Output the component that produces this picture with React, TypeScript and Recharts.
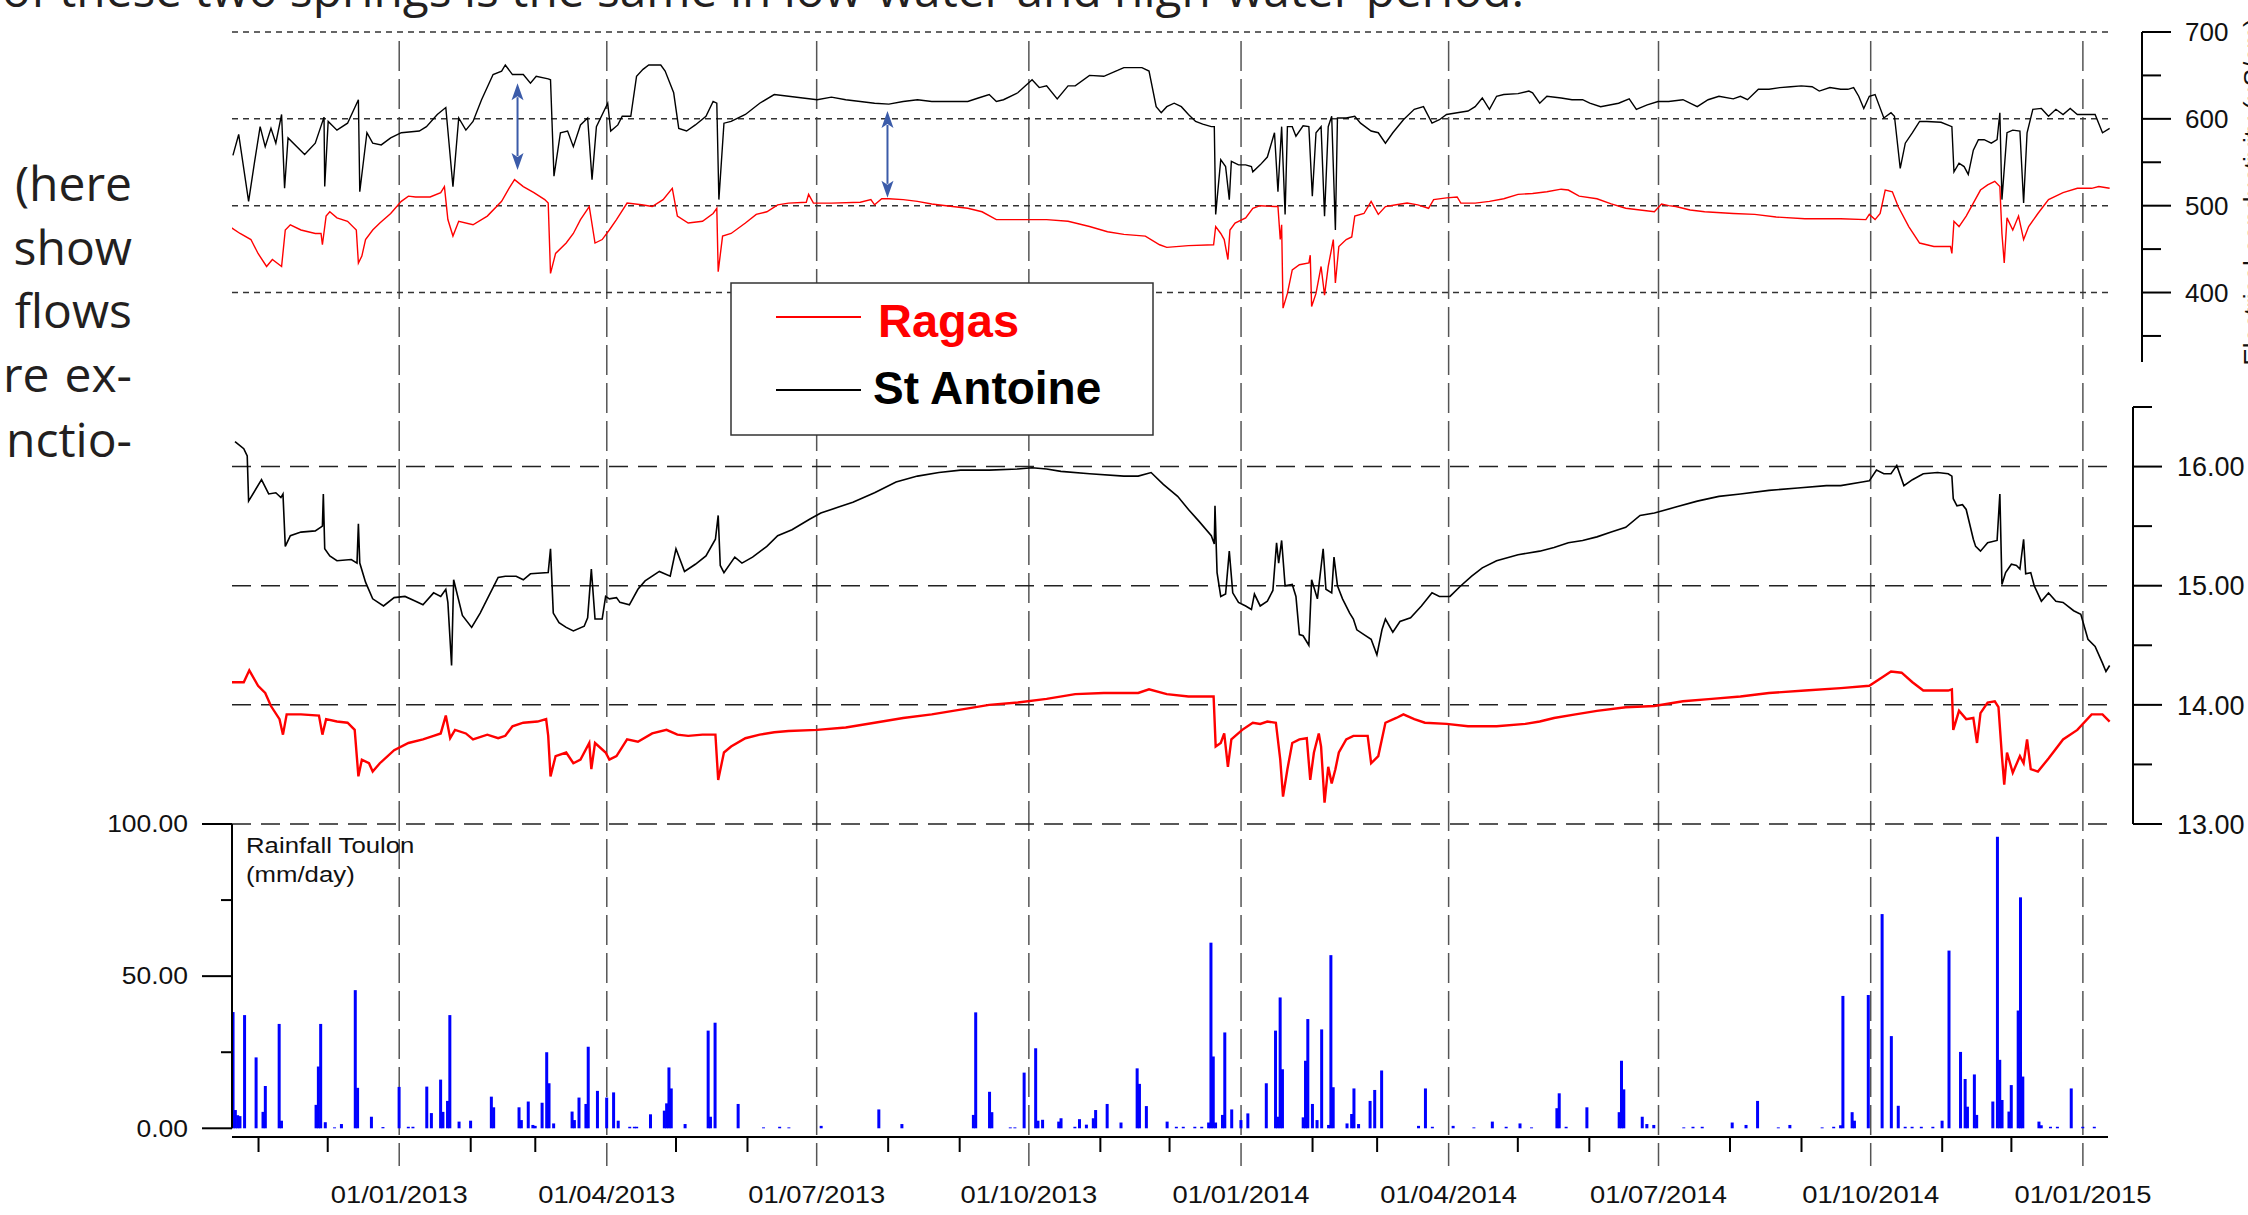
import { ComposedChart, Line, Bar, XAxis, YAxis, ReferenceLine } from "recharts";

// Days are counted from 01/01/2013. Values.
// Electrical conductivity (µS/cm)
const ecStAntoine: [number, number][] = [
  [-72.1, 558], [-69.6, 582], [-65.3, 505], [-62.8, 549], [-60.3, 591], [-58.1, 568], [-55.6, 589], [-53.5, 572],
  [-51.0, 605], [-49.7, 520], [-48.2, 578], [-41.0, 559], [-36.4, 572], [-32.6, 602], [-32.3, 522], [-30.8, 597],
  [-27.0, 587], [-22.4, 595], [-17.7, 622], [-17.1, 516], [-14.0, 584], [-11.5, 572], [-7.8, 570], [-3.7, 578],
  [0.9, 584], [8.7, 586], [11.8, 591], [16.5, 605], [20.2, 613], [23.3, 522], [25.8, 601], [28.9, 587],
  [32.0, 597], [35.7, 622], [40.7, 651], [44.4, 655], [46.0, 662], [49.1, 651], [53.8, 651], [56.9, 641],
  [59.4, 649], [64.6, 646], [65.6, 645], [67.1, 534], [69.9, 584], [73.0, 586], [75.5, 568], [78.6, 593],
  [81.7, 601], [83.6, 530], [85.5, 591], [90.4, 618], [91.7, 586], [94.8, 593], [96.7, 603], [100.4, 603],
  [102.9, 649], [105.7, 657], [108.2, 662], [113.4, 662], [115.3, 655], [119.0, 630], [121.2, 589], [124.6, 586],
  [128.4, 593], [133.0, 603], [136.1, 620], [137.7, 618], [138.6, 507], [140.8, 595], [143.9, 597], [150.1, 605],
  [156.3, 618], [162.6, 628], [168.8, 626], [175.0, 624], [181.2, 622], [187.4, 625], [193.6, 622], [199.9, 620],
  [206.1, 618], [212.3, 617], [218.5, 620], [224.7, 622], [230.9, 620], [237.1, 620], [246.5, 620], [251.1, 624],
  [255.8, 628], [258.9, 620], [262.0, 622], [268.2, 630], [274.4, 645], [277.5, 636], [280.7, 638], [285.3, 623],
  [290.0, 638], [293.1, 638], [299.3, 650], [305.5, 649], [311.7, 656], [314.2, 659], [322.0, 659], [325.1, 655],
  [328.2, 614], [330.4, 607], [332.8, 614], [336.0, 618], [339.1, 614], [342.2, 605], [345.3, 597], [348.4, 594],
  [352.1, 591], [353.4, 591], [354.0, 490], [356.2, 553], [358.3, 545], [359.9, 507], [360.8, 551], [363.9, 547],
  [367.0, 547], [369.5, 545], [370.1, 539], [373.3, 547], [376.4, 556], [379.5, 584], [381.0, 516], [382.6, 591],
  [384.1, 490], [385.1, 591], [387.2, 591], [388.8, 580], [391.9, 592], [394.4, 591], [395.9, 511], [397.5, 584],
  [399.7, 591], [401.2, 488], [402.8, 591], [404.3, 603], [405.9, 472], [406.8, 601], [410.6, 601], [414.3, 603],
  [416.8, 595], [421.4, 586], [424.5, 584], [427.6, 572], [430.8, 584], [435.4, 599], [440.1, 611], [444.1, 614],
  [447.8, 595], [451.0, 599], [454.1, 605], [458.7, 607], [463.4, 609], [466.5, 614], [469.6, 624], [472.7, 611],
  [475.8, 626], [478.9, 628], [485.1, 629], [489.8, 632], [491.4, 630], [494.5, 618], [497.6, 626], [503.8, 624],
  [508.5, 622], [513.1, 622], [516.2, 618], [520.9, 614], [528.7, 618], [533.3, 623], [536.4, 611], [541.1, 616],
  [545.8, 620], [550.4, 620], [556.6, 622], [562.8, 614], [567.5, 622], [572.2, 626], [578.4, 623], [581.5, 626],
  [584.6, 622], [589.3, 634], [593.9, 634], [598.6, 636], [603.3, 637], [607.9, 638], [612.6, 637], [615.7, 632],
  [620.3, 636], [625.0, 634], [628.1, 634], [630.6, 636], [632.8, 626], [635.0, 612], [637.4, 626], [639.9, 628],
  [643.7, 601], [646.8, 607], [648.3, 603], [650.8, 543], [653.0, 572], [656.1, 584], [659.2, 597], [662.3, 597],
  [668.5, 596], [673.2, 591], [674.1, 539], [676.3, 549], [678.5, 545], [680.3, 536], [682.5, 564], [684.7, 576],
  [687.2, 576], [690.3, 572], [692.8, 576], [694.0, 607], [694.9, 507], [697.1, 584], [699.6, 587], [702.7, 586],
  [704.3, 503], [705.8, 584], [708.3, 611], [712.0, 612], [715.1, 603], [718.3, 611], [721.4, 605], [724.5, 612],
  [727.6, 605], [730.7, 605], [735.3, 605], [738.5, 584], [741.6, 589],
];

const ecRagas: [number, number][] = [
  [-73.0, 475], [-69.0, 468], [-64.3, 461], [-61.2, 445], [-57.5, 430], [-55.0, 438], [-51.0, 430], [-49.4, 472],
  [-47.2, 478], [-42.6, 472], [-36.4, 468], [-33.9, 468], [-33.3, 455], [-31.7, 488], [-30.1, 493], [-27.0, 486],
  [-22.4, 482], [-18.6, 472], [-17.7, 434], [-16.2, 442], [-14.6, 461], [-11.5, 472], [-8.4, 480], [-3.7, 491],
  [0.9, 505], [4.0, 511], [7.1, 510], [13.4, 510], [18.0, 515], [19.6, 522], [21.1, 484], [23.3, 465],
  [25.8, 482], [32.0, 478], [38.2, 488], [44.4, 505], [47.6, 520], [50.0, 530], [53.8, 522], [58.4, 515],
  [63.1, 507], [64.6, 503], [65.6, 422], [67.8, 445], [72.4, 457], [75.5, 468], [78.6, 484], [82.4, 499],
  [84.9, 457], [88.0, 461], [91.1, 472], [94.2, 484], [98.8, 503], [105.1, 501], [109.7, 499], [114.4, 507],
  [118.4, 520], [120.6, 488], [125.3, 480], [131.5, 482], [136.1, 491], [137.7, 497], [138.3, 424], [140.2, 465],
  [143.9, 468], [150.1, 480], [154.8, 490], [159.4, 493], [164.1, 501], [168.8, 503], [176.5, 504], [177.5, 513],
  [179.6, 503], [187.4, 503], [199.9, 504], [204.5, 507], [206.1, 501], [209.2, 508], [212.3, 508], [218.5, 507],
  [224.7, 505], [230.9, 502], [237.1, 500], [246.5, 497], [252.7, 493], [258.9, 484], [268.2, 484], [280.7, 484],
  [290.0, 482], [299.3, 476], [307.1, 470], [314.2, 467], [323.5, 465], [329.7, 455], [332.8, 452], [342.2, 454],
  [353.1, 455], [354.0, 476], [356.2, 468], [357.7, 461], [359.3, 438], [360.2, 472], [362.4, 480], [367.0, 486],
  [370.1, 497], [373.3, 500], [379.5, 499], [381.0, 499], [382.0, 461], [382.6, 478], [383.2, 382], [385.1, 399],
  [387.2, 426], [390.3, 432], [394.4, 434], [395.0, 443], [395.6, 384], [397.5, 399], [399.7, 430], [401.2, 397],
  [402.8, 430], [405.0, 461], [405.9, 411], [407.4, 453], [410.6, 461], [413.0, 464], [414.3, 488], [418.3, 491],
  [421.4, 505], [424.5, 490], [427.6, 499], [432.3, 501], [437.0, 503], [441.6, 501], [446.3, 497], [448.5, 507],
  [454.1, 509], [458.7, 510], [460.3, 503], [466.5, 503], [472.7, 505], [478.9, 508], [485.1, 513], [491.4, 514],
  [497.6, 516], [503.8, 519], [506.9, 518], [511.6, 511], [519.3, 508], [525.5, 502], [531.8, 497], [538.0, 495],
  [544.2, 493], [547.3, 502], [550.4, 500], [553.5, 499], [559.7, 495], [566.0, 493], [578.4, 491], [587.7, 490],
  [597.0, 487], [609.5, 485], [625.0, 485], [635.9, 484], [637.4, 490], [639.9, 484], [642.1, 491], [644.3, 518],
  [647.4, 516], [649.9, 499], [654.5, 476], [659.2, 457], [665.4, 453], [672.6, 453], [673.2, 445], [674.1, 482],
  [676.3, 476], [679.4, 488], [682.5, 503], [685.6, 518], [688.7, 524], [691.8, 528], [694.0, 522], [694.9, 468],
  [695.9, 434], [697.1, 486], [699.6, 472], [702.1, 488], [704.3, 461], [706.5, 476], [710.5, 491], [715.1, 507],
  [721.4, 515], [727.6, 520], [733.8, 520], [736.9, 522], [741.6, 520],
];

// Water temperature (°C)
const tempStAntoine: [number, number][] = [
  [-71.2, 16.21], [-67.4, 16.15], [-65.9, 16.09], [-65.3, 15.71], [-59.7, 15.89], [-56.6, 15.77], [-53.5, 15.78],
  [-51.3, 15.74], [-50.4, 15.77], [-49.4, 15.33], [-47.2, 15.42], [-42.6, 15.45], [-36.4, 15.46], [-33.3, 15.5],
  [-32.9, 15.77], [-32.3, 15.31], [-30.1, 15.25], [-27.0, 15.21], [-20.8, 15.22], [-18.3, 15.19], [-17.7, 15.52],
  [-17.1, 15.19], [-14.6, 15.03], [-11.5, 14.89], [-6.8, 14.83], [-2.2, 14.9], [2.5, 14.91], [7.1, 14.87],
  [10.3, 14.84], [14.9, 14.94], [18.0, 14.91], [20.2, 14.97], [21.1, 14.86], [22.7, 14.33], [23.6, 15.05],
  [27.4, 14.75], [31.4, 14.65], [35.1, 14.77], [38.2, 14.89], [42.9, 15.07], [46.0, 15.08], [50.7, 15.08],
  [53.8, 15.05], [56.9, 15.1], [64.6, 15.11], [65.6, 15.31], [66.8, 14.77], [69.3, 14.69], [72.4, 14.65],
  [75.5, 14.62], [80.2, 14.66], [81.7, 14.73], [83.3, 15.14], [84.9, 14.72], [88.0, 14.72], [89.5, 14.91],
  [91.1, 14.89], [94.2, 14.9], [95.7, 14.86], [99.8, 14.84], [103.5, 14.97], [106.6, 15.04], [112.8, 15.12],
  [117.5, 15.08], [120.0, 15.31], [123.7, 15.12], [128.4, 15.18], [133.0, 15.25], [137.1, 15.39], [138.3, 15.59],
  [139.2, 15.17], [140.8, 15.11], [145.5, 15.24], [148.6, 15.19], [153.2, 15.24], [159.4, 15.33], [164.1, 15.42],
  [170.3, 15.47], [178.1, 15.56], [182.8, 15.61], [190.5, 15.66], [196.7, 15.7], [206.1, 15.78], [215.4, 15.87],
  [224.7, 15.92], [234.0, 15.95], [243.4, 15.97], [255.8, 15.97], [268.2, 15.98], [274.4, 15.99], [280.7, 15.98],
  [286.9, 15.96], [299.3, 15.94], [314.2, 15.92], [320.4, 15.92], [326.0, 15.95], [331.3, 15.85], [337.5, 15.75],
  [342.2, 15.64], [346.8, 15.54], [352.1, 15.42], [353.4, 15.35], [353.7, 15.67], [354.6, 15.11], [356.2, 14.91],
  [358.3, 14.93], [359.9, 15.29], [361.4, 14.94], [363.9, 14.86], [367.0, 14.83], [369.5, 14.8], [370.8, 14.93],
  [373.3, 14.83], [376.4, 14.87], [378.8, 14.96], [380.4, 15.36], [381.3, 15.19], [382.6, 15.38], [384.1, 15.0],
  [387.2, 15.01], [388.8, 14.91], [390.3, 14.59], [391.9, 14.58], [394.4, 14.5], [395.6, 15.05], [398.1, 14.89],
  [400.6, 15.31], [401.8, 14.97], [404.3, 14.94], [405.3, 15.24], [406.8, 15.0], [409.0, 14.89], [412.1, 14.77],
  [413.7, 14.72], [415.2, 14.63], [418.3, 14.59], [421.4, 14.55], [423.9, 14.42], [426.1, 14.63], [427.6, 14.72],
  [430.8, 14.61], [433.9, 14.7], [438.5, 14.73], [443.2, 14.83], [447.8, 14.94], [451.0, 14.91], [455.6, 14.91],
  [460.3, 15.0], [465.0, 15.08], [469.6, 15.15], [475.8, 15.21], [485.1, 15.26], [494.5, 15.29], [500.7, 15.32],
  [506.9, 15.36], [513.1, 15.38], [519.3, 15.41], [525.5, 15.45], [531.8, 15.49], [538.0, 15.59], [544.2, 15.61],
  [553.5, 15.66], [562.8, 15.71], [572.2, 15.75], [581.5, 15.77], [593.9, 15.8], [606.4, 15.82], [618.8, 15.84],
  [625.0, 15.84], [634.3, 15.87], [637.4, 15.88], [640.5, 15.97], [643.7, 15.94], [646.8, 15.94], [649.3, 16.01],
  [652.4, 15.84], [656.1, 15.89], [660.8, 15.94], [667.0, 15.95], [671.6, 15.94], [673.2, 15.92], [673.8, 15.73],
  [675.4, 15.67], [677.8, 15.68], [679.4, 15.64], [682.5, 15.39], [683.5, 15.33], [685.6, 15.29], [688.7, 15.36],
  [692.8, 15.38], [694.0, 15.77], [694.9, 15.01], [696.5, 15.11], [699.0, 15.18], [701.2, 15.17], [702.7, 15.14],
  [704.3, 15.39], [705.2, 15.1], [707.4, 15.11], [708.9, 15.0], [712.0, 14.87], [715.1, 14.94], [718.3, 14.87],
  [721.4, 14.86], [726.0, 14.79], [729.1, 14.76], [732.2, 14.55], [735.3, 14.49], [738.5, 14.35], [740.0, 14.28],
  [741.6, 14.33],
];

const tempRagas: [number, number][] = [
  [-73.0, 14.19], [-67.4, 14.19], [-65.0, 14.29], [-61.2, 14.16], [-58.1, 14.1], [-55.6, 13.99], [-51.9, 13.88],
  [-50.4, 13.75], [-48.8, 13.92], [-42.6, 13.92], [-34.8, 13.91], [-33.3, 13.75], [-31.7, 13.88], [-27.0, 13.86],
  [-22.4, 13.85], [-19.3, 13.79], [-17.7, 13.4], [-16.2, 13.54], [-13.1, 13.51], [-11.5, 13.44], [-8.4, 13.51],
  [-2.2, 13.62], [4.0, 13.68], [10.3, 13.71], [14.9, 13.74], [18.0, 13.76], [20.2, 13.91], [22.1, 13.72],
  [24.2, 13.79], [28.9, 13.76], [32.0, 13.71], [38.2, 13.75], [42.9, 13.72], [46.0, 13.74], [49.1, 13.82],
  [53.8, 13.85], [60.0, 13.86], [63.7, 13.88], [64.6, 13.74], [65.6, 13.4], [67.8, 13.57], [72.4, 13.6],
  [75.5, 13.51], [78.6, 13.54], [82.4, 13.68], [83.3, 13.46], [84.9, 13.68], [89.5, 13.6], [91.1, 13.54],
  [94.2, 13.57], [98.8, 13.71], [103.5, 13.69], [109.7, 13.76], [115.9, 13.79], [120.6, 13.75], [125.3, 13.74],
  [131.5, 13.75], [137.1, 13.75], [138.3, 13.37], [140.8, 13.6], [143.9, 13.65], [150.1, 13.72], [156.3, 13.75],
  [162.6, 13.77], [168.8, 13.78], [181.2, 13.79], [193.6, 13.81], [206.1, 13.85], [218.5, 13.89], [230.9, 13.92],
  [243.4, 13.96], [255.8, 14.0], [268.2, 14.02], [280.7, 14.05], [293.1, 14.09], [305.5, 14.1], [314.2, 14.1],
  [320.4, 14.1], [325.1, 14.13], [332.8, 14.09], [342.2, 14.07], [353.1, 14.07], [354.0, 13.65], [356.2, 13.68],
  [357.7, 13.76], [359.3, 13.48], [360.8, 13.71], [365.5, 13.79], [370.1, 13.85], [373.3, 13.84], [376.4, 13.86],
  [380.1, 13.85], [382.0, 13.54], [383.2, 13.23], [385.1, 13.46], [387.2, 13.68], [390.3, 13.71], [393.5, 13.72],
  [395.0, 13.37], [396.6, 13.6], [398.7, 13.76], [399.7, 13.65], [401.2, 13.18], [402.8, 13.48], [404.3, 13.34],
  [405.9, 13.46], [407.4, 13.6], [410.6, 13.71], [413.7, 13.74], [419.9, 13.74], [421.4, 13.51], [424.5, 13.57],
  [427.6, 13.85], [432.3, 13.89], [435.4, 13.92], [440.1, 13.88], [444.7, 13.85], [454.1, 13.84], [463.4, 13.82],
  [475.8, 13.82], [488.3, 13.84], [494.5, 13.86], [500.7, 13.89], [510.0, 13.92], [519.3, 13.95], [531.8, 13.98],
  [544.2, 13.99], [556.6, 14.03], [569.1, 14.05], [581.5, 14.07], [593.9, 14.1], [609.5, 14.12], [625.0, 14.14],
  [637.4, 14.16], [643.7, 14.24], [646.8, 14.28], [651.4, 14.27], [656.1, 14.19], [660.8, 14.12], [671.6, 14.12],
  [673.2, 14.13], [673.8, 13.79], [676.3, 13.95], [679.4, 13.88], [682.5, 13.89], [684.1, 13.68], [685.6, 13.93],
  [688.7, 14.02], [691.8, 14.03], [693.4, 13.98], [694.9, 13.57], [695.9, 13.33], [697.1, 13.6], [699.6, 13.43],
  [702.7, 13.57], [704.3, 13.51], [705.8, 13.71], [707.4, 13.46], [710.5, 13.44], [715.1, 13.55], [721.4, 13.71],
  [727.6, 13.79], [733.8, 13.92], [738.5, 13.92], [741.6, 13.86],
];

// Rainfall Toulon (mm/day)
const rainToulon: [number, number][] = [
  [-72, 38.2], [-71, 6.0], [-70, 4.3], [-69, 4.0], [-67, 37.2], [-62, 23.3], [-59, 5.4], [-58, 13.9], [-52, 34.3],
  [-51, 2.5], [-36, 7.7], [-35, 20.3], [-34, 34.3], [-32, 2.0], [-28, 0.3], [-25, 1.4], [-19, 45.4], [-18, 13.3],
  [-12, 3.8], [-7, 0.4], [0, 13.6], [4, 0.5], [6, 0.5], [12, 13.7], [14, 5.0], [18, 16.0], [19, 5.4], [21, 9.0],
  [22, 37.2], [26, 2.2], [31, 2.5], [40, 10.4], [41, 6.9], [52, 6.9], [53, 2.7], [56, 8.8], [58, 1.1], [59, 0.8],
  [62, 8.4], [64, 25.0], [65, 14.8], [67, 1.6], [75, 5.5], [76, 2.7], [78, 10.1], [81, 8.0], [82, 26.8], [86, 12.3],
  [90, 10.1], [93, 11.8], [95, 2.5], [100, 0.5], [102, 0.5], [103, 0.5], [109, 4.6], [115, 5.8], [116, 8.2],
  [117, 20.0], [118, 13.1], [124, 1.4], [134, 32.1], [135, 3.8], [137, 34.7], [147, 8.0], [158, 0.3], [165, 0.5],
  [169, 0.3], [183, 0.8], [208, 6.2], [218, 1.4], [249, 4.4], [250, 38.1], [256, 12.0], [257, 5.3], [265, 0.3],
  [267, 0.3], [271, 18.3], [276, 26.3], [277, 2.5], [279, 2.8], [286, 2.2], [287, 3.3], [293, 0.5], [295, 3.0],
  [298, 1.2], [301, 3.3], [302, 6.0], [307, 8.0], [313, 1.9], [320, 19.7], [321, 14.6], [324, 7.3], [333, 2.2],
  [337, 0.5], [340, 0.5], [345, 0.5], [348, 0.5], [351, 1.9], [352, 61.0], [353, 23.6], [354, 1.9], [357, 4.4],
  [358, 31.5], [361, 6.2], [365, 2.7], [368, 4.9], [376, 14.8], [380, 32.1], [381, 3.8], [382, 43.0], [383, 19.4],
  [392, 3.6], [393, 22.2], [394, 35.9], [396, 8.0], [398, 2.7], [400, 32.5], [403, 1.1], [404, 56.9], [405, 13.5],
  [411, 1.6], [413, 4.7], [414, 13.1], [416, 1.4], [421, 9.0], [423, 12.6], [426, 19.0], [442, 0.8], [445, 13.1],
  [448, 0.5], [457, 0.8], [466, 0.3], [474, 2.2], [480, 0.5], [486, 1.6], [491, 0.3], [502, 6.6], [503, 11.5],
  [506, 0.5], [515, 6.9], [529, 5.3], [530, 22.2], [531, 12.8], [539, 3.8], [541, 1.4], [544, 1.1], [557, 0.3],
  [561, 0.5], [565, 0.5], [578, 1.9], [584, 1.1], [589, 9.0], [598, 0.3], [603, 1.1], [617, 0.3], [622, 0.5],
  [625, 1.0], [626, 43.5], [630, 5.3], [631, 2.5], [637, 43.8], [643, 70.4], [647, 30.3], [650, 7.4], [653, 0.5],
  [656, 0.5], [660, 0.5], [665, 0.5], [669, 2.5], [672, 58.4], [677, 25.1], [679, 16.2], [680, 7.1], [683, 17.7],
  [684, 4.4], [691, 8.8], [693, 95.8], [694, 22.5], [695, 9.3], [698, 5.5], [699, 14.2], [702, 38.7], [703, 75.9],
  [704, 17.0], [711, 2.2], [712, 1.0], [716, 0.5], [719, 0.5], [725, 13.1], [730, 0.5], [735, 0.5],
];

const quarterLabels = [
  "01/01/2013", "01/04/2013", "01/07/2013", "01/10/2013", "01/01/2014",
  "01/04/2014", "01/07/2014", "01/10/2014", "01/01/2015",
];
const ecTicks = [350, 400, 450, 500, 550, 600, 650, 700];
const ecGridValues = [700, 600, 500, 400];
const tempTicks = [13, 13.5, 14, 14.5, 15, 15.5, 16, 16.5];
const tempGridValues = [16, 15, 14];
const rainTicks = [0, 25, 50, 75, 100];
// blue arrows marking the EC gap between the springs (day, top, bottom)
const ecArrows = [
  { day: 51.3, from: 641, to: 541 },
  { day: 211.7, from: 609, to: 509 },
];

const topLine = "of these two springs is the same in low-water and high-water period.";
const ecTitle = "Electrical conductivity (µS/cm)";

// page geometry
const W = 2248;
const H = 1215;
const LEFT = 232; // x of the left edge of the time axis
const RIGHT = 2108; // x where the time axis ends
const PX_DAY = 2.3064;
const DAY_START = -72.5;
const dayAtPx = (px: number) => DAY_START + (px - LEFT) / PX_DAY;
const DAY_END = dayAtPx(RIGHT);
const RAIN_FLOOR = -(1137 - 1128.3) / ((1128.3 - 824) / 100);

const ORIGIN = Date.UTC(2013, 0, 1);
const DAY_MS = 86400000;
const labelToDay = (s: string) => {
  const [d, m, y] = s.split("/").map(Number);
  return (Date.UTC(y, m - 1, d) - ORIGIN) / DAY_MS;
};
const quarterDays = quarterLabels.map(labelToDay);
const monthDays: number[] = [];
for (let i = 0; i < 27; i++) monthDays.push((Date.UTC(2012, 10 + i, 1) - ORIGIN) / DAY_MS);

const toPoints = (arr: [number, number][]) => arr.map(([day, v]) => ({ day, v }));
const rainData = rainToulon.map(([day, mm]) => ({ day, mm }));

const FONT = "'Liberation Sans', Arial, sans-serif";
const BODY_FONT = "'Open Sans', sans-serif";
const BLUE_ARROW = "#3b5ba9";

const EcTick = ({ x, y, payload }: any) => {
  const major = payload.value % 100 === 0;
  return (
    <g>
      <line x1={x} y1={y} x2={x + (major ? 29 : 19)} y2={y} stroke="#000" strokeWidth={2} />
      {major && (
        <text x={x + 43} y={y} dy="0.36em" fontSize={26} fontFamily={FONT} fill="#111">
          {payload.value}
        </text>
      )}
    </g>
  );
};

const TempTick = ({ x, y, payload }: any) => {
  const major = Number.isInteger(payload.value);
  return (
    <g>
      <line x1={x} y1={y} x2={x + (major ? 29 : 19)} y2={y} stroke="#000" strokeWidth={2} />
      {major && (
        <text x={x + 44} y={y} dy="0.36em" fontSize={27} fontFamily={FONT} fill="#111">
          {payload.value.toFixed(2)}
        </text>
      )}
    </g>
  );
};

const RainTick = ({ x, y, payload }: any) => {
  const major = payload.value % 50 === 0;
  return (
    <g>
      <line x1={x} y1={y} x2={x - (major ? 30 : 11)} y2={y} stroke="#000" strokeWidth={2} />
      {major && (
        <text
          transform={`translate(${x - 44},${y}) scale(1.15,1)`}
          dy="0.36em"
          textAnchor="end"
          fontSize={23}
          fontFamily={FONT}
          fill="#111"
        >
          {payload.value.toFixed(2)}
        </text>
      )}
    </g>
  );
};

const MonthTick = ({ x, y, payload }: any) => {
  const idx = quarterDays.indexOf(payload.value);
  if (idx >= 0) {
    return (
      <text
        transform={`translate(${x},${y + 66}) scale(1.19,1)`}
        textAnchor="middle"
        fontSize={23}
        fontFamily={FONT}
        fill="#111"
      >
        {quarterLabels[idx]}
      </text>
    );
  }
  return <line x1={x} y1={y} x2={x} y2={y + 15} stroke="#000" strokeWidth={2} />;
};

const DoubleArrow = (props: any) => {
  const { x1, y1, y2 } = props;
  const top = Math.min(y1, y2);
  const bottom = Math.max(y1, y2);
  const head = 17;
  const half = 6;
  return (
    <g>
      <line x1={x1} y1={top + head - 3} x2={x1} y2={bottom - head + 3} stroke={BLUE_ARROW} strokeWidth={2} />
      <polygon points={`${x1},${top} ${x1 - half},${top + head} ${x1},${top + head - 4} ${x1 + half},${top + head}`} fill={BLUE_ARROW} />
      <polygon points={`${x1},${bottom} ${x1 - half},${bottom - head} ${x1},${bottom - head + 4} ${x1 + half},${bottom - head}`} fill={BLUE_ARROW} />
    </g>
  );
};

const RainBar = (props: any) => {
  const { x, y, width, height } = props;
  if (!height || height <= 0) return <g />;
  return <rect x={x + width / 2 - 1.5} y={y} width={3} height={height} fill="#0000ff" />;
};

const layer = { position: "absolute" as const, left: 0, top: 0 };

export default function App() {
  return (
    <div style={{ position: "fixed", left: 0, top: 0, width: W, height: H, overflow: "hidden", background: "#fff" }}>
      {/* vertical quarter grid, shared by the three panels */}
      <div style={layer}>
        <ComposedChart
          width={W}
          height={1166}
          margin={{ top: 41, right: W - RIGHT, bottom: 0, left: LEFT }}
          data={quarterDays.map((day) => ({ day, v: 0.5 }))}
        >
          <XAxis dataKey="day" type="number" domain={[DAY_START, DAY_END]} hide allowDataOverflow />
          <YAxis hide type="number" domain={[0, 1]} allowDataOverflow />
          <Line dataKey="v" stroke="none" dot={false} activeDot={false} isAnimationActive={false} />
          {quarterDays.map((d) => (
            <ReferenceLine
              key={d}
              segment={[{ x: d, y: 1 }, { x: d, y: 0 }]}
              stroke="#555"
              strokeWidth={1.5}
              strokeDasharray="30 8"
              ifOverflow="visible"
            />
          ))}
        </ComposedChart>
      </div>

      {/* electrical conductivity */}
      <div style={layer}>
        <ComposedChart width={W} height={370} margin={{ top: 32, right: 0, bottom: 8, left: LEFT }}>
          <XAxis dataKey="day" type="number" domain={[DAY_START, dayAtPx(2142)]} hide allowDataOverflow />
          <YAxis
            orientation="right"
            width={W - 2142}
            domain={[320, 700]}
            ticks={ecTicks}
            interval={0}
            allowDataOverflow
            tickSize={0}
            tickMargin={0}
            tickLine={false}
            axisLine={{ stroke: "#000", strokeWidth: 2 }}
            tick={<EcTick />}
          />
          {ecGridValues.map((v) => (
            <ReferenceLine
              key={v}
              segment={[{ x: DAY_START, y: v }, { x: DAY_END, y: v }]}
              stroke="#333"
              strokeWidth={1.5}
              strokeDasharray="6 5"
              ifOverflow="visible"
            />
          ))}
          <Line data={toPoints(ecRagas)} dataKey="v" type="linear" stroke="#ff0000" strokeWidth={1.4} dot={false} activeDot={false} isAnimationActive={false} />
          <Line data={toPoints(ecStAntoine)} dataKey="v" type="linear" stroke="#000" strokeWidth={1.4} dot={false} activeDot={false} isAnimationActive={false} />
          {ecArrows.map((a) => (
            <ReferenceLine
              key={a.day}
              segment={[{ x: a.day, y: a.from }, { x: a.day, y: a.to }]}
              shape={DoubleArrow}
              ifOverflow="visible"
            />
          ))}
        </ComposedChart>
      </div>

      {/* temperature */}
      <div style={layer}>
        <ComposedChart width={W} height={860} margin={{ top: 407, right: 0, bottom: 36, left: LEFT }}>
          <XAxis dataKey="day" type="number" domain={[DAY_START, dayAtPx(2133)]} hide allowDataOverflow />
          <YAxis
            orientation="right"
            width={W - 2133}
            domain={[13, 16.5]}
            ticks={tempTicks}
            interval={0}
            allowDataOverflow
            tickSize={0}
            tickMargin={0}
            tickLine={false}
            axisLine={{ stroke: "#000", strokeWidth: 2 }}
            tick={<TempTick />}
          />
          {tempGridValues.map((v) => (
            <ReferenceLine
              key={v}
              segment={[{ x: DAY_START, y: v }, { x: DAY_END, y: v }]}
              stroke="#222"
              strokeWidth={1.5}
              strokeDasharray="19 10"
              ifOverflow="visible"
            />
          ))}
          <Line data={toPoints(tempRagas)} dataKey="v" type="linear" stroke="#ff0000" strokeWidth={2.4} dot={false} activeDot={false} isAnimationActive={false} />
          <Line data={toPoints(tempStAntoine)} dataKey="v" type="linear" stroke="#000" strokeWidth={1.6} dot={false} activeDot={false} isAnimationActive={false} />
        </ComposedChart>
      </div>

      {/* rainfall */}
      <div style={layer}>
        <ComposedChart width={W} height={H} margin={{ top: 824, right: W - RIGHT, bottom: 0, left: 0 }} data={rainData}>
          <XAxis
            dataKey="day"
            type="number"
            domain={[DAY_START, DAY_END]}
            ticks={monthDays}
            interval={0}
            height={78}
            allowDataOverflow
            tickSize={0}
            tickMargin={0}
            tickLine={false}
            axisLine={{ stroke: "#000", strokeWidth: 2 }}
            tick={<MonthTick />}
          />
          <YAxis
            width={LEFT}
            domain={[RAIN_FLOOR, 100]}
            ticks={rainTicks}
            interval={0}
            allowDataOverflow
            tickSize={0}
            tickMargin={0}
            tickLine={false}
            axisLine={false}
            tick={<RainTick />}
          />
          <ReferenceLine
            segment={[{ x: DAY_START, y: 100 }, { x: DAY_END, y: 100 }]}
            stroke="#222"
            strokeWidth={1.5}
            strokeDasharray="19 10"
            ifOverflow="visible"
          />
          <ReferenceLine
            segment={[{ x: DAY_START, y: 0 }, { x: DAY_START, y: 100 }]}
            stroke="#000"
            strokeWidth={2}
            ifOverflow="visible"
          />
          <Bar dataKey="mm" fill="#0000ff" barSize={3} shape={RainBar} isAnimationActive={false} />
        </ComposedChart>
      </div>

      {/* page text, panel titles and legend */}
      <svg width={W} height={H} style={{ position: "absolute", left: 0, top: 0 }}>
        <text x={2} y={7} fontFamily={BODY_FONT} fontSize={48} fill="#231f20" textLength={1522} lengthAdjust="spacingAndGlyphs">
          {topLine}
        </text>
        <g fontFamily={BODY_FONT} fontSize={48} fill="#231f20">
          <text x={132} y={201} textAnchor="end">(here</text>
          <text x={132} y={265} textAnchor="end">show</text>
          <text x={132} y={328} textAnchor="end">flows</text>
          <text x={3} y={392}>re</text>
          <text x={132} y={392} textAnchor="end">ex-</text>
          <text x={132} y={457} textAnchor="end">nctio-</text>
        </g>
        <text transform="translate(2262,192) rotate(-90)" textAnchor="middle" fontSize={26} fontFamily={FONT} fill="#111">
          {ecTitle}
        </text>
        <g fontFamily={FONT} fontSize={23} fill="#111">
          <text transform="translate(246,853) scale(1.12,1)">Rainfall Toulon</text>
          <text transform="translate(246,882) scale(1.12,1)">(mm/day)</text>
        </g>
        <rect x={731} y={283} width={422} height={152} fill="#fff" stroke="#333" strokeWidth={1.5} />
        <line x1={776} y1={317} x2={861} y2={317} stroke="#ff0000" strokeWidth={2} />
        <line x1={776} y1={390} x2={861} y2={390} stroke="#000" strokeWidth={2} />
        <text x={878} y={337} fontFamily={FONT} fontWeight="bold" fontSize={47} fill="#ff0000">Ragas</text>
        <text x={873} y={404} fontFamily={FONT} fontWeight="bold" fontSize={46} fill="#000">St Antoine</text>
      </svg>
    </div>
  );
}
